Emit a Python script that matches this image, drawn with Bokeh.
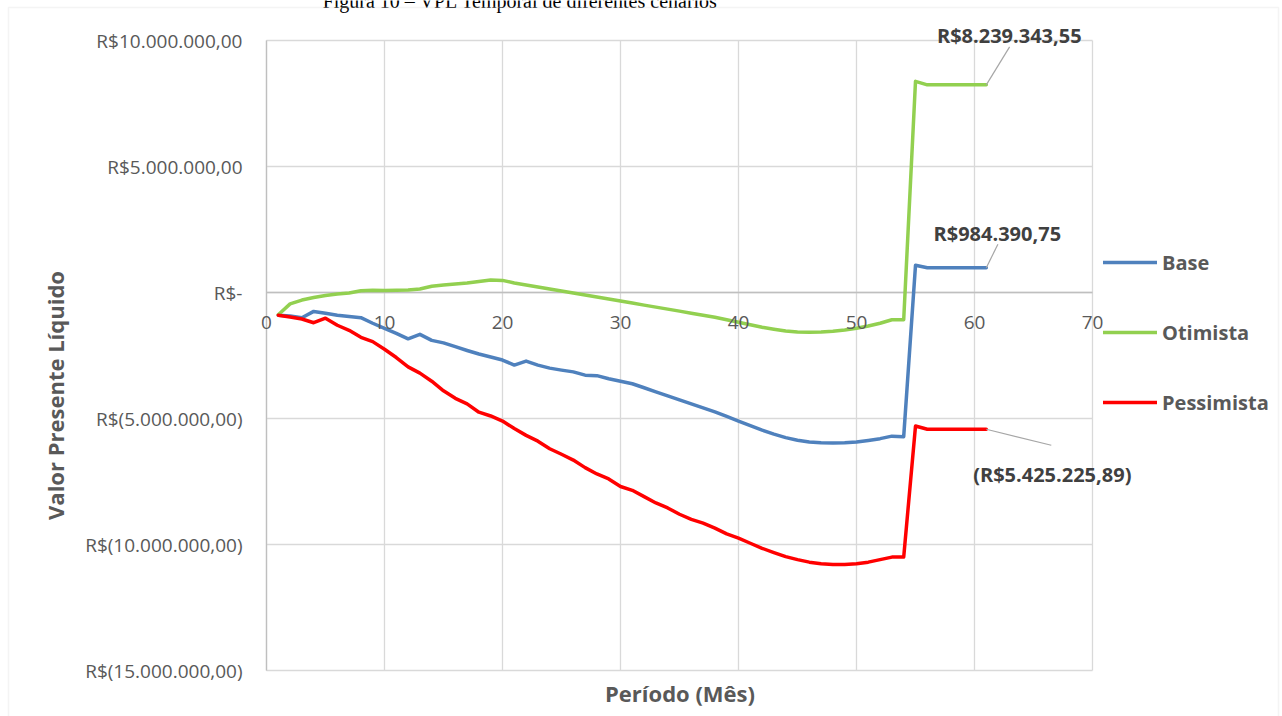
import math
from bokeh.plotting import figure
from bokeh.models import (Range1d, Legend, LegendItem, Label, LabelSet,
                          ColumnDataSource, BoxAnnotation)
from bokeh.core.properties import value
from bokeh.embed import file_html
from bokeh.resources import INLINE

# ---------------- data ----------------
months = list(range(1, 62))

base = [-900000, -930000, -1000000, -750000, -820000, -900000, -950000, -1000000,
        -1220000, -1420000, -1620000, -1840000, -1660000, -1900000, -2000000, -2150000,
        -2300000, -2440000, -2560000, -2680000, -2880000, -2720000, -2880000, -3000000,
        -3080000, -3150000, -3280000, -3300000, -3420000, -3520000, -3620000, -3780000,
        -3940000, -4100000, -4260000, -4420000, -4580000, -4740000, -4920000, -5100000,
        -5280000, -5460000, -5620000, -5760000, -5860000, -5930000, -5960000, -5970000,
        -5960000, -5930000, -5870000, -5800000, -5700000, -5720000, 1080000,
        984390.75, 984390.75, 984390.75, 984390.75, 984390.75, 984390.75]

otimista = [-880000, -450000, -300000, -200000, -120000, -60000, -20000, 70000,
            90000, 80000, 90000, 100000, 140000, 250000, 300000, 340000,
            380000, 440000, 500000, 480000, 380000, 300000, 220000, 140000,
            60000, -20000, -100000, -180000, -260000, -340000, -420000, -500000,
            -580000, -660000, -740000, -820000, -900000, -980000, -1080000, -1180000,
            -1280000, -1380000, -1460000, -1530000, -1570000, -1580000, -1570000, -1540000,
            -1490000, -1420000, -1330000, -1220000, -1080000, -1080000, 8380000,
            8239343.55, 8239343.55, 8239343.55, 8239343.55, 8239343.55, 8239343.55]

pessimista = [-900000, -970000, -1050000, -1200000, -1020000, -1300000, -1500000, -1780000,
              -1950000, -2250000, -2580000, -2950000, -3200000, -3520000, -3900000, -4200000,
              -4420000, -4750000, -4900000, -5100000, -5400000, -5670000, -5900000, -6200000,
              -6420000, -6650000, -6950000, -7200000, -7400000, -7700000, -7850000, -8100000,
              -8350000, -8550000, -8800000, -9000000, -9150000, -9350000, -9580000, -9750000,
              -9950000, -10150000, -10320000, -10480000, -10600000, -10700000, -10760000, -10790000,
              -10790000, -10760000, -10700000, -10600000, -10500000, -10500000, -5300000,
              -5425225.89, -5425225.89, -5425225.89, -5425225.89, -5425225.89, -5425225.89]

series_names = ["Base", "Otimista", "Pessimista"]
series_colors = ["#4F81BD", "#92D050", "#FF0000"]

x_ticks = [0, 10, 20, 30, 40, 50, 60, 70]
x_tick_labels = ["0", "10", "20", "30", "40", "50", "60", "70"]
y_ticks = [10000000, 5000000, 0, -5000000, -10000000, -15000000]
y_tick_labels = ["R$10.000.000,00", "R$5.000.000,00", "R$-", "R$(5.000.000,00)",
                 "R$(10.000.000,00)", "R$(15.000.000,00)"]

title_text = "Figura 10 – VPL Temporal de diferentes cenários"
x_title = "Período (Mês)"
y_title = "Valor Presente Líquido"


def brl(v):
    s = f"{abs(v):,.2f}".replace(",", "X").replace(".", ",").replace("X", ".")
    return f"(R${s})" if v < 0 else f"R${s}"


# ---------------- layout (pixels) ----------------
FONT = "Open Sans"
W, H = 1282, 716
FL, FR, FT, FB = 266, 1092, 40, 670          # plot area inside the canvas
X0, X1 = x_ticks[0], x_ticks[-1]
Y0, Y1 = y_ticks[-1], y_ticks[0]
px_per_x = (FR - FL) / (X1 - X0)
px_per_y = (FB - FT) / (Y1 - Y0)

# the Bokeh frame covers the whole canvas; ranges extended so that the
# plot area lands at FL..FR / FT..FB
x_range = Range1d(X0 - FL / px_per_x, X1 + (W - FR) / px_per_x)
y_range = Range1d(Y0 - (H - FB) / px_per_y, Y1 + FT / px_per_y)

p = figure(width=W, height=H, output_backend="svg", toolbar_location=None,
           x_axis_location=None, y_axis_location=None,
           x_range=x_range, y_range=y_range, min_border=0)
p.min_border_left = p.min_border_right = p.min_border_top = p.min_border_bottom = 0
p.outline_line_color = None
p.xgrid.visible = False
p.ygrid.visible = False
p.background_fill_color = "white"
p.border_fill_color = "white"

# gridlines (drawn from tick lists)
p.segment(x0=x_ticks, y0=[Y0] * len(x_ticks), x1=x_ticks, y1=[Y1] * len(x_ticks),
          line_color="#d9d9d9", line_width=1.3)
p.segment(x0=[X0] * len(y_ticks), y0=y_ticks, x1=[X1] * len(y_ticks), y1=y_ticks,
          line_color="#d9d9d9", line_width=1.3)
# axis lines
p.segment(x0=[X0], y0=[0], x1=[X1], y1=[0], line_color="#bfbfbf", line_width=1.3)
p.segment(x0=[X0], y0=[Y0], x1=[X0], y1=[Y1], line_color="#bfbfbf", line_width=1.3)

# series lines
renderers = []
for name, vals, col in zip(series_names, [base, otimista, pessimista], series_colors):
    r = p.line(months, vals, line_color=col, line_width=3.5, line_join="round", line_cap="round")
    renderers.append(r)

# tick labels
xs = ColumnDataSource(dict(x=x_ticks, y=[0] * len(x_ticks), t=x_tick_labels))
p.add_layout(LabelSet(x="x", y="y", text="t", source=xs, y_offset=-30,
                      text_align="center", text_baseline="middle",
                      text_font=value(FONT), text_font_size=value("19px"),
                      text_color="#595959"))
ys = ColumnDataSource(dict(x=[X0] * len(y_ticks), y=y_ticks, t=y_tick_labels))
p.add_layout(LabelSet(x="x", y="y", text="t", source=ys, x_offset=-24,
                      text_align="right", text_baseline="middle",
                      text_font=value(FONT), text_font_size=value("19px"),
                      text_color="#595959"))

# axis titles (screen units: from bottom-left of the canvas)
p.add_layout(Label(x=54, y=H - 395, x_units="screen", y_units="screen",
                   text=y_title, angle=math.pi / 2, text_align="center",
                   text_baseline="middle", text_font=FONT, text_font_size="22px",
                   text_font_style="bold", text_color="#595959"))
p.add_layout(Label(x=679.5, y=H - 692, x_units="screen", y_units="screen",
                   text=x_title, text_align="center", text_baseline="middle",
                   text_font=FONT, text_font_size="22px", text_font_style="bold",
                   text_color="#595959"))

# caption at the top of the page (only its lower part is on the page)
p.add_layout(Label(x=520, y=H, x_units="screen", y_units="screen",
                   text=title_text, text_align="center", text_baseline="alphabetic",
                   text_font="Liberation Serif", text_font_size="20px", text_color="#000000"))

# outer chart border
p.add_layout(BoxAnnotation(left=8, right=1278, top=H - 7, bottom=-20,
                           left_units="screen", right_units="screen",
                           top_units="screen", bottom_units="screen",
                           fill_alpha=0, line_color="#d9d9d9", line_width=1.5))

# data labels with leader lines
label_style = {
    "Otimista": dict(lx=23, ly=49.5, ex=23.3, ey=38),
    "Base": dict(lx=11, ly=34, ex=11.6, ey=23.4),
    "Pessimista": dict(lx=66, ly=-45, ex=65, ey=-16),
}
for name, vals in zip(series_names, [base, otimista, pessimista]):
    st = label_style[name]
    xv, yv = months[-1], vals[-1]
    p.segment(x0=[xv], y0=[yv], x1=[xv + st["ex"] / px_per_x], y1=[yv + st["ey"] / px_per_y],
              line_color="#a6a6a6", line_width=1.2)
    p.add_layout(Label(x=xv, y=yv, x_offset=st["lx"], y_offset=st["ly"], text=brl(yv),
                       text_align="center", text_baseline="alphabetic",
                       text_font=FONT, text_font_size="20px", text_font_style="bold",
                       text_color="#404040"))

# legend
legend = Legend(items=[LegendItem(label=n, renderers=[r]) for n, r in zip(series_names, renderers)],
                location=(1103, H - 416), orientation="vertical",
                glyph_width=54, glyph_height=28, label_height=28, spacing=42,
                padding=0, margin=0, label_standoff=5,
                background_fill_alpha=0, border_line_alpha=0,
                label_text_font=FONT, label_text_font_size="20px",
                label_text_font_style="bold", label_text_color="#595959")
p.add_layout(legend)

open("out.html", "w").write(file_html(p, INLINE))
